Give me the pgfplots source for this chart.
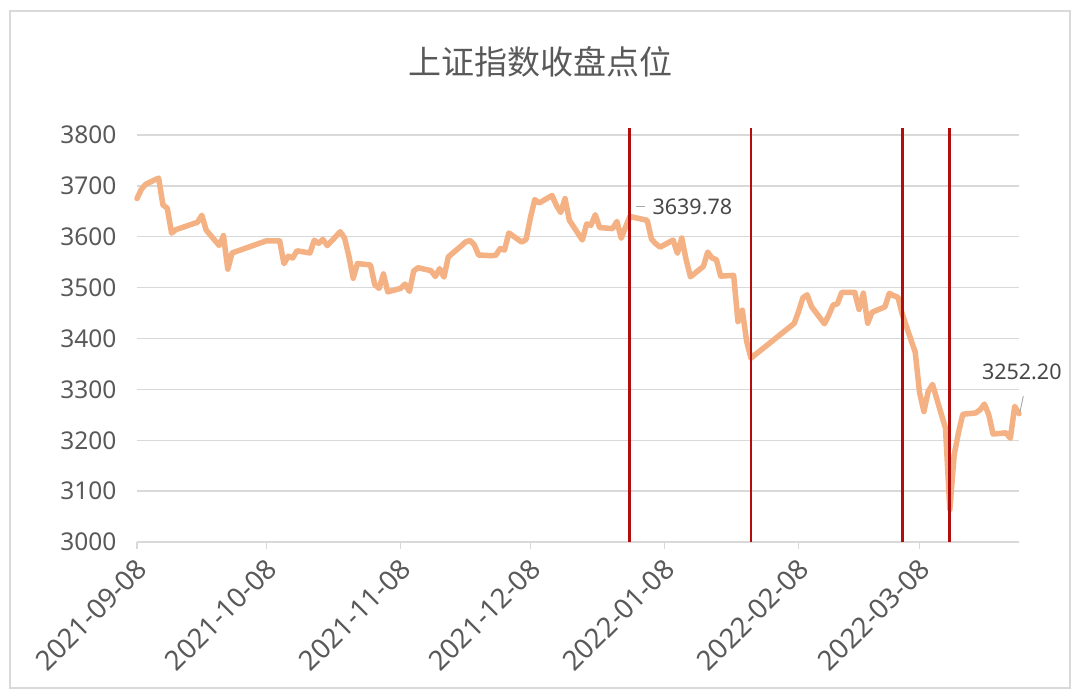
\documentclass[border=0pt]{standalone}
\usepackage{fontspec}
\setmainfont{Noto Sans}
\newfontfamily\cjk{Noto Sans CJK SC}
\usepackage{pgfplots}
\usepackage{pgfplotstable}
\pgfplotsset{compat=1.18}
\definecolor{lineor}{RGB}{244,177,131}
\definecolor{redl}{RGB}{178,14,14}
\definecolor{txt}{RGB}{89,89,89}
\definecolor{gridc}{RGB}{217,217,217}
\definecolor{leader}{RGB}{166,166,166}

\pgfplotstableread{
day value
0 3675.19
1 3693.13
2 3703.11
5 3715.37
6 3662.60
7 3656.22
8 3607.09
9 3613.97
14 3628.49
15 3642.22
16 3613.07
19 3582.83
20 3602.22
21 3536.29
22 3568.17
30 3592.17
33 3591.71
34 3546.94
35 3561.76
36 3558.28
37 3572.37
40 3568.14
41 3593.15
42 3587.00
43 3594.78
44 3582.60
47 3609.86
48 3597.64
49 3562.31
50 3518.42
51 3547.34
54 3544.48
55 3505.63
56 3498.54
57 3526.87
58 3491.57
61 3498.63
62 3507.00
63 3492.46
64 3532.79
65 3539.10
68 3533.30
69 3521.79
70 3537.37
71 3520.71
72 3560.37
75 3582.08
76 3589.75
77 3592.70
78 3584.18
79 3564.09
82 3562.70
83 3563.89
84 3576.89
85 3573.84
86 3607.43
89 3589.31
90 3595.09
91 3637.57
92 3673.04
93 3666.35
96 3681.08
97 3661.53
98 3647.63
99 3675.02
100 3632.36
103 3593.60
104 3625.13
105 3622.62
106 3643.34
107 3618.05
110 3615.97
111 3630.11
112 3597.00
113 3619.19
114 3639.78
118 3632.33
119 3595.18
120 3586.08
121 3579.54
124 3593.52
125 3567.44
126 3597.43
127 3555.26
128 3521.26
131 3541.67
132 3569.91
133 3558.18
134 3555.06
135 3522.57
138 3524.11
139 3433.06
140 3455.67
141 3394.25
142 3361.44
152 3429.58
153 3452.63
154 3479.95
155 3485.91
156 3462.95
159 3428.88
160 3446.09
161 3465.83
162 3468.04
163 3490.76
166 3490.61
167 3457.15
168 3489.15
169 3429.96
170 3451.41
173 3462.31
174 3488.83
175 3484.19
176 3481.11
177 3447.65
180 3372.86
181 3293.53
182 3256.39
183 3296.09
184 3309.75
187 3223.54
188 3063.97
189 3170.71
190 3215.04
191 3251.07
194 3253.69
195 3259.86
196 3271.03
197 3250.26
198 3212.24
201 3214.50
202 3203.94
203 3266.60
204 3252.20
}\sse

\begin{document}
\begin{tikzpicture}[x=1pt,y=1pt]
\useasboundingbox (0,0) rectangle (1080,695);
\draw[gridc, line width=1.5pt] (10,7) rectangle (1070,684);
\node[text=txt, font=\cjk\fontsize{33}{36}\selectfont] at (540,633) {上证指数收盘点位};
\begin{axis}[
  at={(137pt,153pt)}, anchor=south west,
  scale only axis, width=882pt, height=407pt,
  xmin=0, xmax=204, ymin=3000, ymax=3800,
  clip=false,
  xtick={0,30,61,91,122,153,181},
  xticklabels={2021-09-08,2021-10-08,2021-11-08,2021-12-08,2022-01-08,2022-02-08,2022-03-08},
  ytick={3000,3100,3200,3300,3400,3500,3600,3700,3800},
  ymajorgrids,
  grid style={gridc, line width=1.3pt},
  axis x line*=bottom,
  axis y line*=left,
  y axis line style={draw=none},
  x axis line style={gridc, line width=1.5pt},
  xtick align=outside,
  major tick length=7pt,
  xtick style={gridc, line width=1.3pt},
  ytick style={draw=none},
  tick label style={text=txt, font=\fontsize{24.5}{28}\selectfont},
  yticklabel style={xshift=-17pt},
  xticklabel style={rotate=45, anchor=east, inner sep=2pt, xshift=-5pt, yshift=-14pt, font=\fontsize{27.5}{30}\selectfont},
  /pgf/number format/assume math mode=true,
  /pgf/number format/1000 sep={},
]
\addplot[lineor, line width=5.5pt, line join=round, line cap=round] table[x=day, y=value] {\sse};
\addplot[redl, line width=2.8pt] coordinates {(114,3000) (114,3814)};
\addplot[redl, line width=2.8pt] coordinates {(142,3000) (142,3814)};
\addplot[redl, line width=2.8pt] coordinates {(177,3000) (177,3814)};
\addplot[redl, line width=2.8pt] coordinates {(188,3000) (188,3814)};
\draw[leader, line width=0.9pt] (axis cs:115.3,3660) -- (axis cs:117.6,3660);
\node[anchor=west, inner sep=0pt, text=txt!80!black, font=\fontsize{21.5}{24}\selectfont] at (axis cs:119.2,3659) {3639.78};
\draw[leader, line width=0.9pt] (axis cs:204.2,3255) -- (axis cs:205.0,3287);
\node[anchor=west, inner sep=0pt, text=txt!80!black, font=\fontsize{21.5}{24}\selectfont] at (axis cs:195.4,3334) {3252.20};
\end{axis}
\end{tikzpicture}
\end{document}
